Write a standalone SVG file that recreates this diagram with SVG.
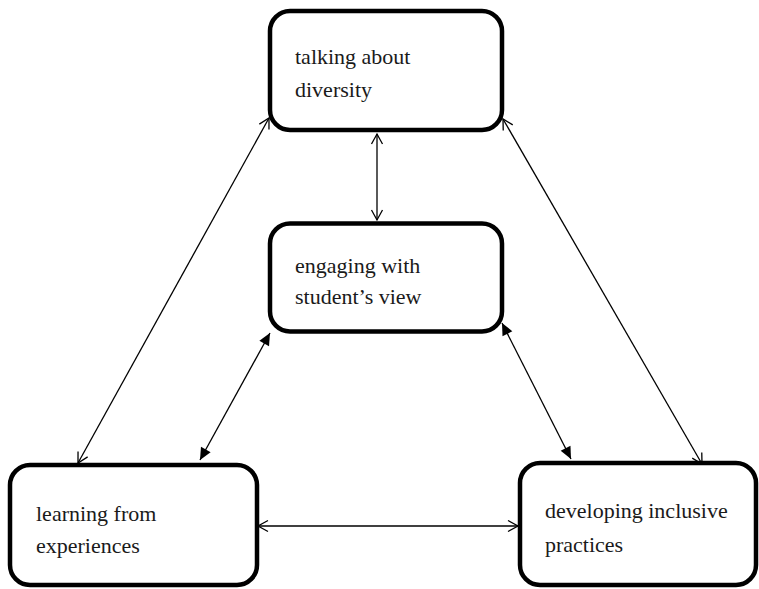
<svg xmlns="http://www.w3.org/2000/svg" width="759" height="589" viewBox="0 0 759 589">
  <style>
    .box { fill: #ffffff; stroke: #000000; stroke-width: 4.5; }
    .label { font-family: "Liberation Serif", "Times New Roman", serif; font-size: 22px; fill: #1a1a1a; }
    .link { stroke: #000000; stroke-width: 1.3; fill: none; }
    .open { marker-start: url(#openHead); marker-end: url(#openHead); }
    .solid { marker-start: url(#solidHead); marker-end: url(#solidHead); }
  </style>
  <defs>
    <marker id="openHead" viewBox="-12 -7 14 14" markerWidth="14" markerHeight="14" refX="0" refY="0" orient="auto-start-reverse" markerUnits="userSpaceOnUse">
      <path d="M-10,-5.5 L0,0 L-10,5.5" fill="none" stroke="#000000" stroke-width="1.3"/>
    </marker>
    <marker id="solidHead" viewBox="-14 -7 15 14" markerWidth="15" markerHeight="14" refX="0" refY="0" orient="auto-start-reverse" markerUnits="userSpaceOnUse">
      <polygon points="-12,-5.5 0,0 -12,5.5" fill="#000000"/>
    </marker>
  </defs>

  <rect width="759" height="589" fill="#ffffff"/>

  <g id="connectors">
    <line class="link open" x1="269" y1="118" x2="78" y2="463"/>
    <line class="link open" x1="503" y1="119" x2="702" y2="464"/>
    <line class="link open" x1="377" y1="134" x2="377" y2="220"/>
    <line class="link solid" x1="270" y1="333" x2="200" y2="460"/>
    <line class="link solid" x1="502" y1="323" x2="571" y2="459"/>
    <line class="link open" x1="258" y1="526" x2="518" y2="526"/>
  </g>

  <g id="talking">
    <rect class="box" x="270" y="11" width="232" height="119" rx="20" ry="20"/>
    <text class="label" x="295" y="64">talking about</text>
    <text class="label" x="295" y="97">diversity</text>
  </g>

  <g id="engaging">
    <rect class="box" x="270" y="223.5" width="232" height="108" rx="20" ry="20"/>
    <text class="label" x="295" y="272.5">engaging with</text>
    <text class="label" x="295" y="304">student’s view</text>
  </g>

  <g id="learning">
    <rect class="box" x="10" y="465" width="247" height="120" rx="20" ry="20"/>
    <text class="label" x="36" y="521">learning from</text>
    <text class="label" x="36" y="553">experiences</text>
  </g>

  <g id="developing">
    <rect class="box" x="520" y="463" width="236" height="122" rx="20" ry="20"/>
    <text class="label" x="545" y="518">developing inclusive</text>
    <text class="label" x="545" y="552">practices</text>
  </g>
</svg>
